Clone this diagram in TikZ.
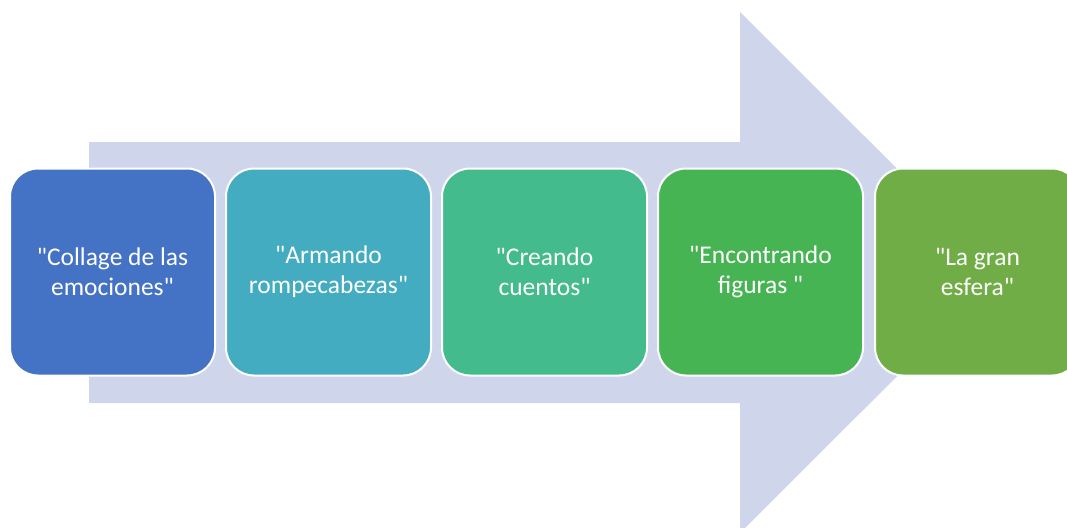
\documentclass[tikz,border=0pt]{standalone}
\usepackage{fontspec}
\newfontfamily\cfont{Carlito}
\definecolor{arrowc}{HTML}{CFD5EA}
\definecolor{c1}{HTML}{4472C4}
\definecolor{c2}{HTML}{43ACC0}
\definecolor{c3}{HTML}{44BB8C}
\definecolor{c4}{HTML}{47B453}
\definecolor{c5}{HTML}{70AD47}
\begin{document}
\begin{tikzpicture}[x=1pt,y=-1pt,
  stepbox/.style={rectangle, rounded corners=28pt, minimum width=205pt, minimum height=207pt,
    draw=white, line width=2pt, text=white, align=center, inner sep=0pt,
    font=\cfont\fontsize{25.5pt}{30pt}\selectfont}]
\useasboundingbox (0,0) rectangle (1067,527);
\clip (0,0) rectangle (1067,527);
\fill[arrowc] (89,142) -- (740,142) -- (740,12) -- (1001,272.5) -- (740,533) -- (740,403) -- (89,403) -- cycle;
\node[stepbox, fill=c1] (b1) at (112.5,272) {"Collage de las\\emociones"};
\node[stepbox, fill=c2] (b2) at (328.5,272) {"Armando\\rompecabezas"};
\node[stepbox, fill=c3] (b3) at (544.5,272) {"Creando\\cuentos"};
\node[stepbox, fill=c4] (b4) at (760.5,272) {"Encontrando\\figuras "};
\node[stepbox, fill=c5] (b5) at (977.5,272) {"La gran\\esfera"};
\end{tikzpicture}
\end{document}
